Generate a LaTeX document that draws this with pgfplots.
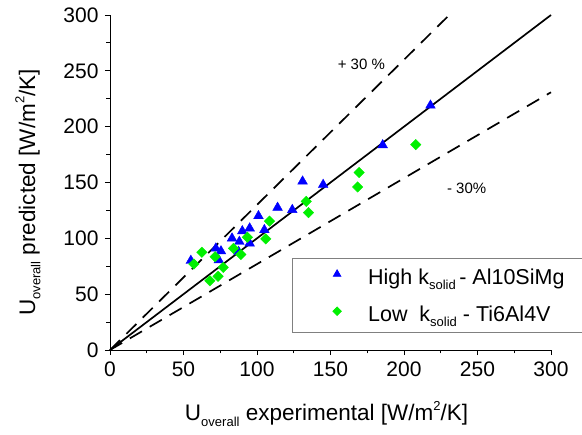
\documentclass[border=0pt]{standalone}
\usepackage{pgfplots}
\pgfplotsset{compat=1.18}
\usepackage{fontspec}
\setmainfont{Liberation Sans}
\definecolor{mygreen}{RGB}{0,240,0}
\newcommand{\sub}[1]{\raisebox{-0.45ex}{\fontsize{13}{14}\selectfont #1}}
\newcommand{\sups}[1]{\raisebox{0.9ex}{\fontsize{13}{14}\selectfont #1}}
\begin{document}
\begin{tikzpicture}
\begin{axis}[
  name=ax,
  scale only axis,
  width=441pt, height=335pt,
  xmin=0, xmax=300, ymin=0, ymax=300,
  axis x line*=bottom, axis y line*=left,
  axis line style={line width=0.9pt},
  xtick={0,50,...,300}, ytick={0,50,...,300},
  minor tick num=1,
  tick align=outside,
  major tick length=5pt, minor tick length=3.5pt,
  tick style={line width=0.9pt, black},
  ticklabel style={font=\fontsize{21}{24}\selectfont},
  /pgf/number format/assume math mode=true,
  xticklabel style={yshift=-3pt},
  yticklabel style={xshift=-3pt},
  clip=false,
  xlabel={U\sub{overall} experimental [W/m\sups{2}/K]},
  ylabel={U\sub{overall} predicted [W/m\sups{2}/K]},
  xlabel style={font=\fontsize{22.5}{26}\selectfont, at={(axis description cs:0.491,-0.19)}, anchor=center},
  ylabel style={font=\fontsize{22.5}{26}\selectfont, at={(axis description cs:-0.186,0.47)}, anchor=center},
  legend style={at={(rel axis cs:0.412,0.274)}, anchor=north west,
    draw=gray, line width=0.8pt, font=\fontsize{21.5}{26}\selectfont,
    inner xsep=2pt, inner ysep=8pt, row sep=16pt},
  legend cell align=left,
]
\addplot[black, line width=1.7pt, forget plot] coordinates {(0,0) (300,300)};
\addplot[black, line width=1.7pt, dash pattern=on 14pt off 9pt, forget plot] coordinates {(0,0) (230.8,300)};
\addplot[black, line width=1.7pt, dash pattern=on 14pt off 9pt, forget plot] coordinates {(0,0) (300,230.8)};
\addplot[only marks, mark=triangle*, mark size=5.6pt, color=blue, forget plot] coordinates {
(55,80) (72,91) (75.5,88.5) (74,80.5) (83,100) (88,97) (90,106.5) (95,109)
(95,95.5) (87.5,88) (101,120) (105,107.5) (114,127.5) (124,125.5)
(131,151) (145,148) (185.5,183.5) (218,219)
};
\addplot[only marks, mark=square*, mark options={rotate=45}, mark size=3.7pt, color=mygreen, forget plot] coordinates {
(57,77) (62.5,87.5) (71.5,83.5) (68,62) (73.5,66) (77,74) (84,91) (89,85.5)
(93.5,101) (106,99.5) (108.5,115.5) (133.5,133) (135,123) (169.5,159)
(168.5,146) (208,184)
};
\addlegendimage{legend image code/.code={\path[draw=none,fill=none] (0pt,0pt) -- (72pt,0pt); \draw[only marks, mark=triangle*, mark size=4.3pt, color=blue] plot coordinates {(43pt,3pt)};}}
\addlegendentry{High k\sub{solid}\,- Al10SiMg\hspace*{20pt}}
\addlegendimage{legend image code/.code={\path[draw=none,fill=none] (0pt,0pt) -- (72pt,0pt); \draw[only marks, mark=square*, mark options={rotate=45}, mark size=3pt, color=mygreen] plot coordinates {(43pt,3pt)};}}
\addlegendentry{Low\ \ k\sub{solid}\ - Ti6Al4V}
\node[font=\fontsize{15}{18}\selectfont] at (axis cs:171,255.6) {+ 30 \%};
\node[font=\fontsize{15}{18}\selectfont] at (axis cs:242.6,144.7) {- 30\%};
\coordinate (O) at (axis cs:0,0);
\coordinate (T) at (axis cs:300,300);
\end{axis}
\pgfresetboundingbox
\path ([shift={(-110pt,-85pt)}]O) rectangle ([shift={(31pt,15pt)}]T);
\end{tikzpicture}
\end{document}
